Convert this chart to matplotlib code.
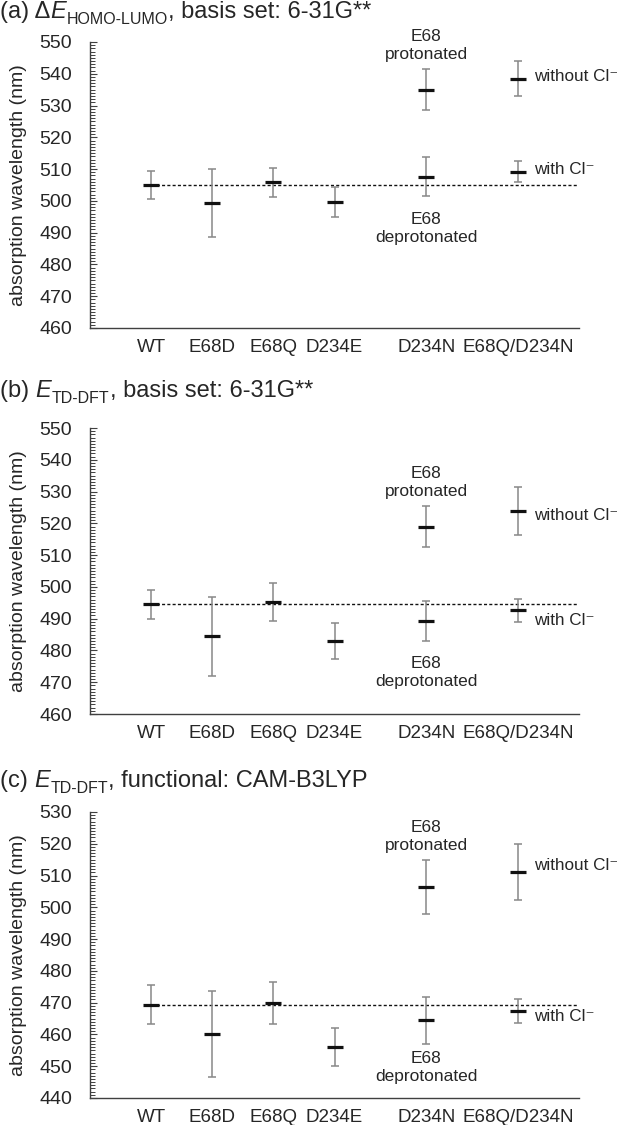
import numpy as np
import matplotlib
matplotlib.use("Agg")
import matplotlib.pyplot as plt
from matplotlib.ticker import MultipleLocator

plt.rcParams['font.family'] = ['Liberation Sans', 'DejaVu Sans']

# categories and their x slots (gap before D234N as in the original)
mutants = ['WT', 'E68D', 'E68Q', 'D234E', 'D234N', 'E68Q/D234N']
xpos = [0, 1, 2, 3, 4.5, 6]

# single-state mutants: value, lower, upper (nm)
a_mid = [505.0, 499.3, 505.8, 499.6]
a_lo = [500.5, 488.5, 501.3, 494.8]
a_hi = [509.3, 510.0, 510.3, 504.4]
# D234N and E68Q/D234N: protonated / without Cl-  and  deprotonated / with Cl-
a_up_mid = [535.0, 538.5]
a_up_lo = [528.5, 533.0]
a_up_hi = [541.6, 544.0]
a_dn_mid = [507.6, 509.2]
a_dn_lo = [501.5, 505.8]
a_dn_hi = [513.7, 512.4]

b_mid = [494.5, 484.4, 495.2, 483.0]
b_lo = [490.0, 472.0, 489.3, 477.3]
b_hi = [499.1, 496.8, 501.1, 488.5]
b_up_mid = [519.0, 523.8]
b_up_lo = [512.5, 516.3]
b_up_hi = [525.5, 531.5]
b_dn_mid = [489.3, 492.7]
b_dn_lo = [483.0, 488.9]
b_dn_hi = [495.7, 496.1]

c_mid = [469.4, 460.1, 469.9, 456.1]
c_lo = [463.3, 446.6, 463.4, 450.1]
c_hi = [475.5, 473.6, 476.4, 462.1]
c_up_mid = [506.5, 511.2]
c_up_lo = [498.0, 502.4]
c_up_hi = [515.0, 519.8]
c_dn_mid = [464.5, 467.3]
c_dn_lo = [456.9, 463.5]
c_dn_hi = [471.9, 471.0]

# title pieces: prefix, italic symbol, subscript, rest
titles = [('(a) \u0394', 'E', 'HOMO-LUMO', ', basis set: 6-31G**'),
          ('(b) ', 'E', 'TD-DFT', ', basis set: 6-31G**'),
          ('(c) ', 'E', 'TD-DFT', ', functional: CAM-B3LYP')]
ylims = [(460, 550), (460, 550), (440, 530)]
# label heights (nm) for the annotations: E68 prot, E68 deprot, without, with
label_y = [(549.0, 491.4, 539.1, 509.8),
           (532.9, 473.0, 522.5, 489.4),
           (522.3, 449.7, 513.3, 465.8)]

panels = [
    (a_mid, a_lo, a_hi, a_up_mid, a_up_lo, a_up_hi, a_dn_mid, a_dn_lo, a_dn_hi),
    (b_mid, b_lo, b_hi, b_up_mid, b_up_lo, b_up_hi, b_dn_mid, b_dn_lo, b_dn_hi),
    (c_mid, c_lo, c_hi, c_up_mid, c_up_lo, c_up_hi, c_dn_mid, c_dn_lo, c_dn_hi),
]

W, H = 617, 1125
fig = plt.figure(figsize=(W / 100, H / 100), dpi=100)
renderer = fig.canvas.get_renderer()

tops = [42, 428, 812]
title_base = [18, 397, 787]
left, right = 90, 579
ph = 286
txt = '#262626'
axcol = '#404040'
barcol = '#888888'


def rich_title(base_px, pieces):
    """Draw title pieces one after another, subscript lowered and smaller."""
    pre, sym, sub, rest = pieces
    specs = [(pre, 17, 'normal', 0), (sym, 17, 'italic', 0),
             (sub, 11.5, 'normal', -6), (rest, 17, 'normal', 0)]
    x = 0.0
    for s, size, style, dy in specs:
        t = fig.text(x / W, 1 - (base_px - dy) / H, s, ha='left', va='baseline',
                     fontsize=size, style=style, color=txt)
        bb = t.get_window_extent(renderer)
        x = bb.x1 + (0.5 if style == 'italic' else 0.0)


for k in range(3):
    mid, lo, hi, up_mid, up_lo, up_hi, dn_mid, dn_lo, dn_hi = panels[k]
    ax = fig.add_axes([left / W, 1 - (tops[k] + ph) / H, (right - left) / W, ph / H])

    xs = xpos[:4] + xpos[4:] + xpos[4:]
    ys = np.array(mid + up_mid + dn_mid)
    los = np.array(lo + up_lo + dn_lo)
    his = np.array(hi + up_hi + dn_hi)
    ax.errorbar(xs, ys, yerr=[ys - los, his - ys], fmt='none', ecolor=barcol,
                elinewidth=1.1, capsize=3, capthick=1.1, zorder=2)
    ax.plot(xs, ys, linestyle='none', marker='_', markersize=11,
            markeredgewidth=2.3, color='#111111', zorder=3)

    # reference line at WT value
    ax.plot([xpos[0], 7], [mid[0], mid[0]], color='#111111', lw=1.0,
            linestyle=(0, (2.2, 1.6)), zorder=1)

    ax.set_xlim(-1, 7)
    ax.set_ylim(*ylims[k])
    ax.set_xticks(xpos)
    ax.set_xticklabels(mutants, fontsize=13.5, color=txt)
    ax.yaxis.set_major_locator(MultipleLocator(10))
    ax.yaxis.set_minor_locator(MultipleLocator(1))
    ax.tick_params(axis='x', length=0, pad=8)
    ax.tick_params(axis='y', which='major', direction='in', length=5, width=0.8,
                   color=axcol, labelsize=14, labelcolor=txt, pad=13)
    ax.tick_params(axis='y', which='minor', direction='in', length=3.5,
                   width=0.7, color=axcol)
    for s in ['top', 'right']:
        ax.spines[s].set_visible(False)
    for s in ['left', 'bottom']:
        ax.spines[s].set_color(axcol)
        ax.spines[s].set_linewidth(1.0)
    ax.set_ylabel('absorption wavelength (nm)', fontsize=14, color=txt)
    ax.yaxis.set_label_coords(-0.128, 0.5)

    py, dy, wy, cy = label_y[k]
    ax.text(xpos[4], py, 'E68\nprotonated', ha='center', va='center',
            fontsize=12.5, color=txt, linespacing=1.25, clip_on=False)
    ax.text(xpos[4], dy, 'E68\ndeprotonated', ha='center', va='center',
            fontsize=12.5, color=txt, linespacing=1.25)
    ax.text(6.26, wy, 'without Cl\u207b', ha='left', va='center',
            fontsize=12.3, color=txt, clip_on=False)
    ax.text(6.26, cy, 'with Cl\u207b', ha='left', va='center',
            fontsize=12.3, color=txt, clip_on=False)

    rich_title(title_base[k], titles[k])

fig.savefig('out.png', dpi=100)
